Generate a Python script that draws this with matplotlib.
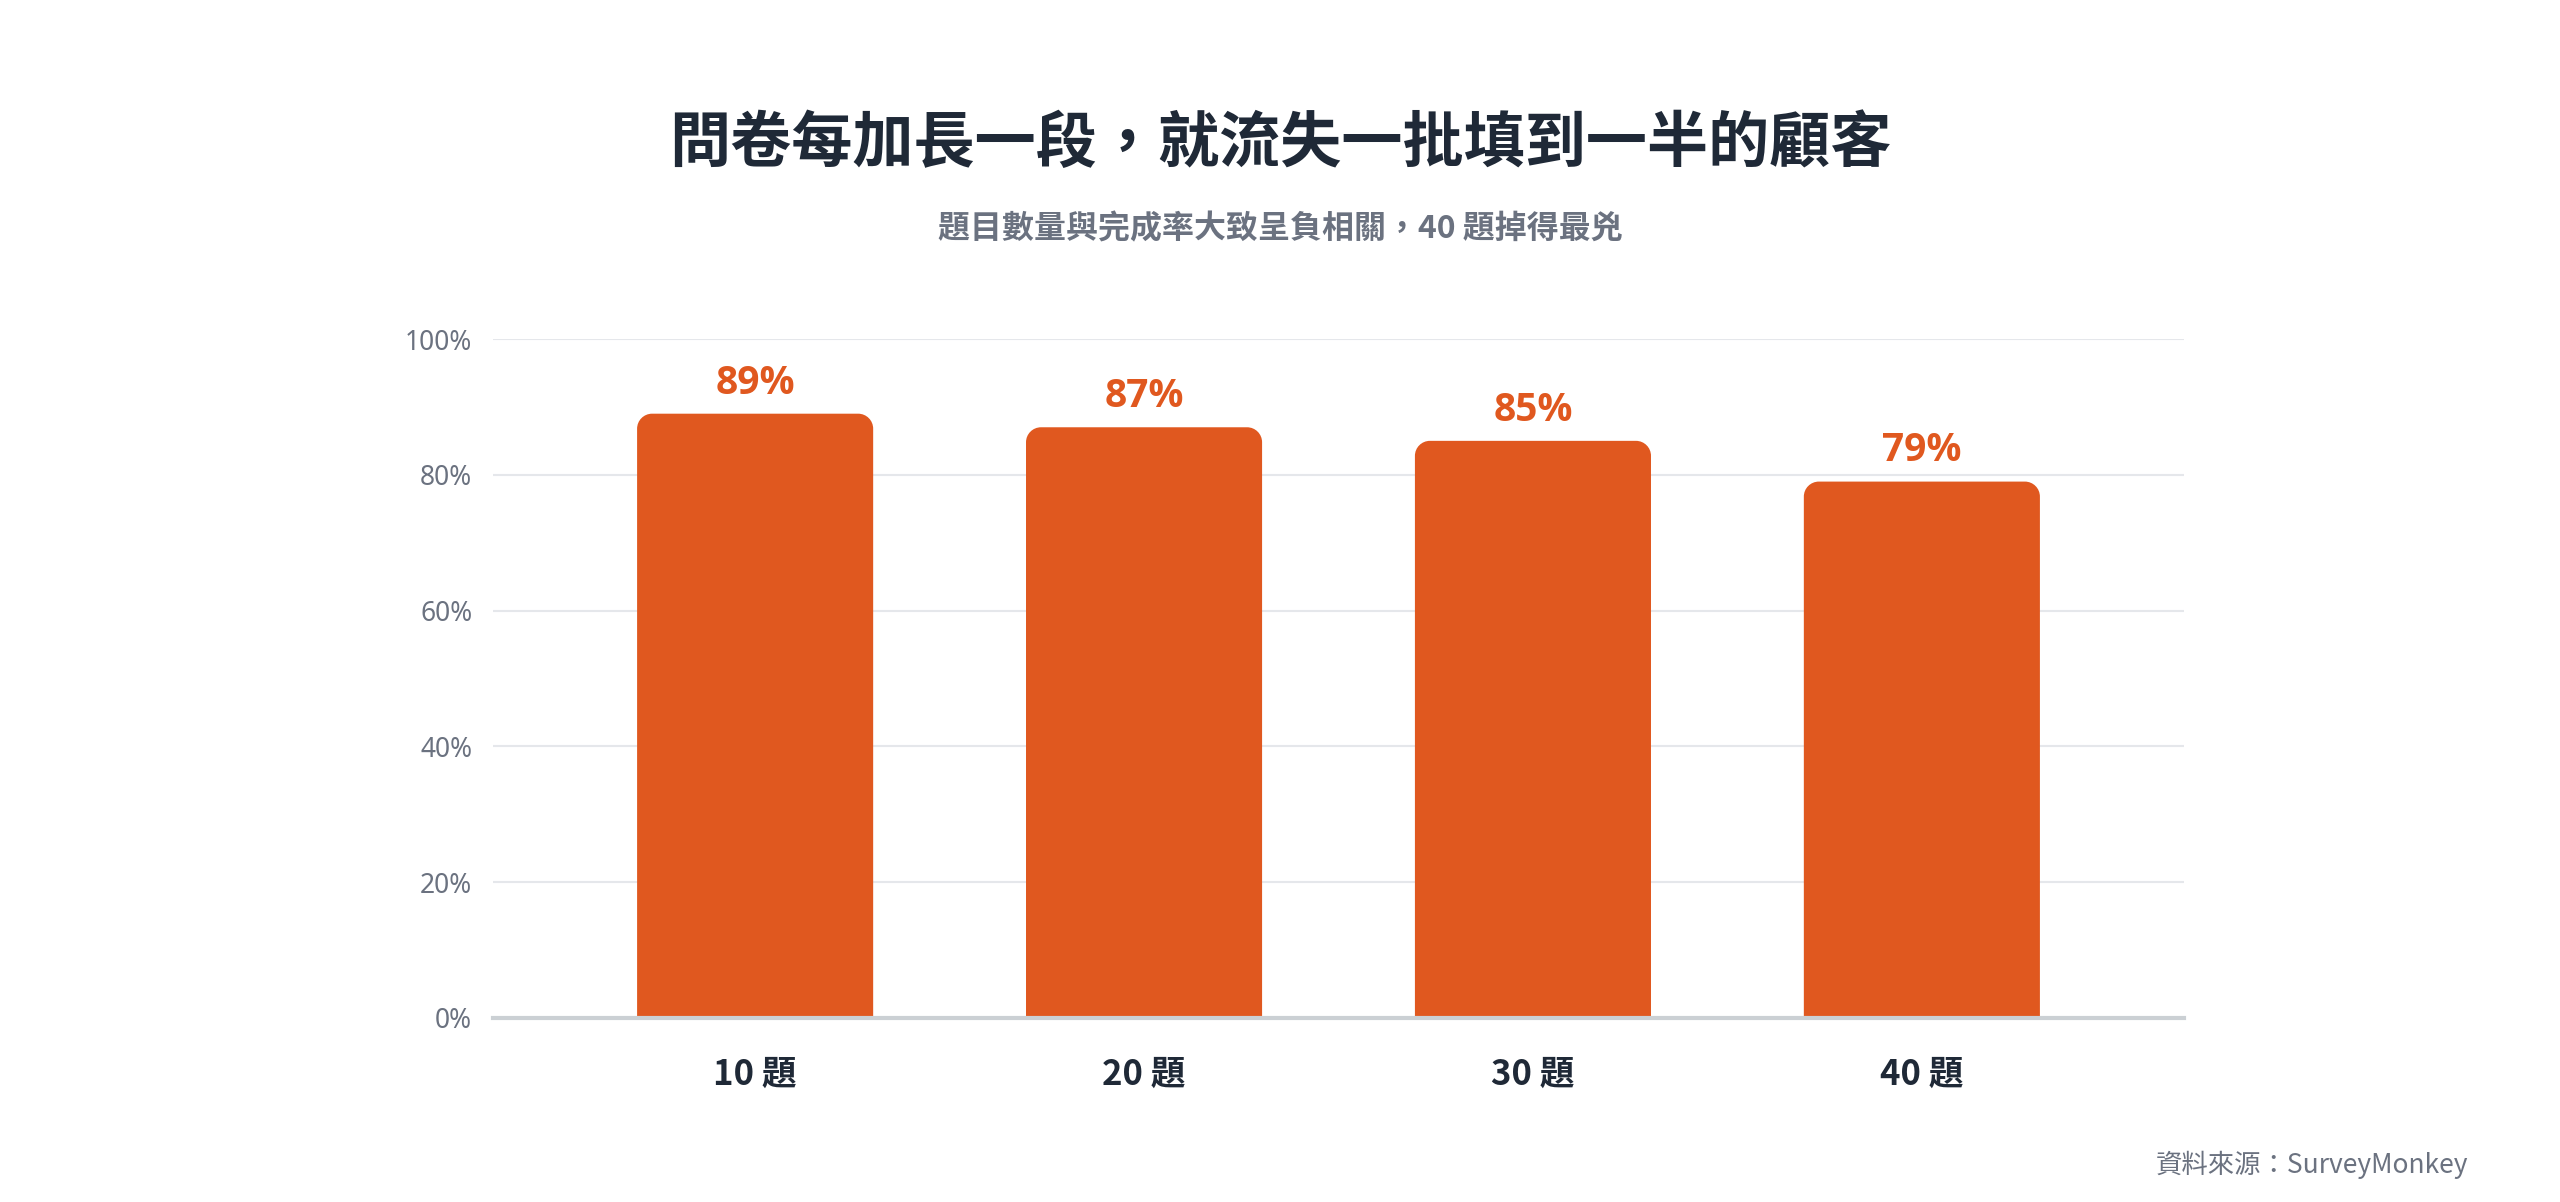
import matplotlib
matplotlib.use("Agg")
import matplotlib.pyplot as plt
from matplotlib.path import Path
from matplotlib.patches import PathPatch

plt.rcParams['font.family'] = ['Noto Sans CJK TC', 'DejaVu Sans']

categories = ["10 題", "20 題", "30 題", "40 題"]
values = [89, 87, 85, 79]
value_labels = ["89%", "87%", "85%", "79%"]
yticks = [0, 20, 40, 60, 80, 100]
ytick_labels = ["0%", "20%", "40%", "60%", "80%", "100%"]

title = "問卷每加長一段，就流失一批填到一半的顧客"
subtitle = "題目數量與完成率大致呈負相關，40 題掉得最兇"
source = "資料來源：SurveyMonkey"

BAR = "#E0581F"
DARK = "#1F2937"
GRAY = "#6B7280"

W, H = 2560, 1202
fig = plt.figure(figsize=(W / 100, H / 100), dpi=100)
fig.patch.set_facecolor("white")

left, right, top, bottom = 493, 2184, 339, 1018
ax = fig.add_axes([left / W, 1 - bottom / H, (right - left) / W, (bottom - top) / H])
ax.set_xlim(-0.674, 3.674)
ax.set_ylim(0, 100)

x = list(range(len(categories)))
bw = 0.607
bars = ax.bar(x, values, width=bw, color=BAR, zorder=3)

# replace bars with rounded-top versions (radius in pixels)
fig.canvas.draw()
r_px = 15
inv = ax.transData.inverted()
p0 = inv.transform((0, 0))
p1 = inv.transform((r_px, r_px))
rx, ry = p1[0] - p0[0], p1[1] - p0[1]
k = 0.5523
for b in bars:
    x0, y0 = b.get_x(), b.get_y()
    w, h = b.get_width(), b.get_height()
    x1, y1 = x0 + w, y0 + h
    verts = [
        (x0, y0), (x0, y1 - ry),
        (x0, y1 - ry + k * ry), (x0 + rx - k * rx, y1), (x0 + rx, y1),
        (x1 - rx, y1),
        (x1 - rx + k * rx, y1), (x1, y1 - ry + k * ry), (x1, y1 - ry),
        (x1, y0), (x0, y0),
    ]
    codes = [Path.MOVETO, Path.LINETO,
             Path.CURVE4, Path.CURVE4, Path.CURVE4,
             Path.LINETO,
             Path.CURVE4, Path.CURVE4, Path.CURVE4,
             Path.LINETO, Path.CLOSEPOLY]
    patch = PathPatch(Path(verts, codes), facecolor=BAR, edgecolor="none", zorder=3)
    ax.add_patch(patch)
    b.set_visible(False)

for xi, v, lab in zip(x, values, value_labels):
    ax.annotate(lab, (xi, v), xytext=(0, 8), textcoords="offset points",
                ha="center", va="bottom", fontsize=28, fontweight="bold",
                color=BAR, family=["Open Sans", "DejaVu Sans"], clip_on=False)

ax.set_yticks(yticks)
ax.set_yticklabels(ytick_labels, fontsize=19, color=GRAY,
                   family=["Noto Sans", "DejaVu Sans"])
ax.set_xticks(x)
ax.set_xticklabels(categories, fontsize=25, fontweight="bold", color=DARK)
ax.tick_params(axis="y", length=0, pad=15)
ax.tick_params(axis="x", length=0, pad=28)

ax.grid(axis="y", color="#E5E7EB", linewidth=1.5, zorder=0)
ax.set_axisbelow(True)
for s in ["top", "right", "left"]:
    ax.spines[s].set_visible(False)
ax.spines["bottom"].set_color("#CBD0D4")
ax.spines["bottom"].set_linewidth(3)
ax.spines["bottom"].set_zorder(4)

fig.text(0.5, 1 - 144 / H, title, ha="center", va="center",
         fontsize=44, fontweight="heavy", color=DARK)
fig.text(0.5, 1 - 229 / H, subtitle, ha="center", va="center",
         fontsize=23, fontweight="bold", color=GRAY)
fig.text(2468 / W, 1 - 1165 / H, source, ha="right", va="center",
         fontsize=19, color=GRAY)

fig.savefig("out.png", dpi=100, facecolor="white")
